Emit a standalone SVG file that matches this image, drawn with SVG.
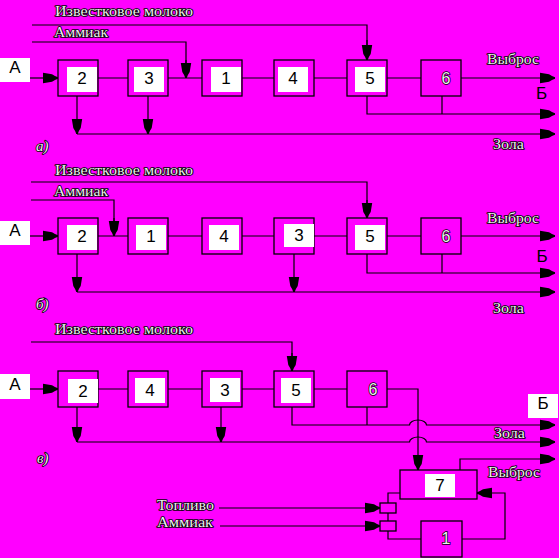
<svg xmlns="http://www.w3.org/2000/svg" width="559" height="558" viewBox="0 0 559 558">
<style>
.bg{fill:#ff00ff}
.box{fill:none;stroke:#000;stroke-width:1.3}
.in{fill:#fff}
.ln{fill:none;stroke:#000;stroke-width:1.2}
.arr{marker-end:url(#ah)}
.num{font-family:"Liberation Sans",Arial,sans-serif;font-size:17px;fill:#000;text-anchor:middle}
.lab{font-family:"Liberation Serif","Times New Roman",serif;font-size:15px;fill:#eee;stroke:#000;stroke-width:1.7;paint-order:stroke;stroke-linejoin:round}
.onum{font-family:"Liberation Sans",Arial,sans-serif;font-size:16px;fill:#eee;stroke:#000;stroke-width:1.5;paint-order:stroke;text-anchor:middle}
</style>
<defs>
<marker id="ah" markerUnits="userSpaceOnUse" markerWidth="16" markerHeight="12" refX="15" refY="6" orient="auto" viewBox="0 0 16 12">
<path d="M0,0.8 L9,2.3 L12,4.1 L15,5.3 L15,6.7 L12,7.9 L9,9.7 L0,11.2 Z" fill="#000"/>
</marker>
</defs>
<rect class="bg" x="0" y="0" width="559" height="558"/>

<!-- ===== a) ===== -->
<g id="a-labels">
<text class="lab" x="55" y="16" textLength="138" lengthAdjust="spacingAndGlyphs">Известковое молоко</text>
<text class="lab" x="54" y="37" textLength="54" lengthAdjust="spacingAndGlyphs">Аммиак</text>
<text class="lab" x="487" y="64" textLength="52" lengthAdjust="spacingAndGlyphs">Выброс</text>
<text class="lab" x="493" y="149" textLength="31" lengthAdjust="spacingAndGlyphs">Зола</text>
<text class="lab" x="36" y="151" font-style="italic">а)</text>
<text class="num" x="541.5" y="99" font-size="16">Б</text>
</g>
<g id="a-A"><rect class="in" x="0" y="58" width="30" height="24"/><text class="num" x="15" y="73" font-size="15">А</text></g>
<g id="a-2"><rect class="box" x="58" y="60" width="40" height="36"/><rect class="in" x="67" y="67" width="30" height="25"/><text class="num" x="82" y="84">2</text></g>
<g id="a-3"><rect class="box" x="128" y="60" width="40" height="36"/><rect class="in" x="134" y="67" width="30" height="25"/><text class="num" x="149" y="84">3</text></g>
<g id="a-1"><rect class="box" x="202" y="60" width="40" height="36"/><rect class="in" x="211" y="67" width="30" height="25"/><text class="num" x="226" y="84">1</text></g>
<g id="a-4"><rect class="box" x="274" y="60" width="40" height="36"/><rect class="in" x="278" y="67" width="30" height="25"/><text class="num" x="293" y="84">4</text></g>
<g id="a-5"><rect class="box" x="347" y="60" width="40" height="36"/><rect class="in" x="355" y="67" width="30" height="25"/><text class="num" x="370" y="84">5</text></g>
<g id="a-6"><rect class="box" x="421" y="60" width="40" height="36"/><text class="onum" x="446" y="84">6</text></g>

<g id="a-connectors">
<path class="ln" d="M32,25 H367 V60"/>
<path class="ln arr" d="M367,40 V60"/>
<path class="ln" d="M32,42 H186 V78"/>
<path class="ln arr" d="M186,60 V78"/>
<path class="ln arr" d="M30,78 H58"/>
<path class="ln" d="M98,78 H128 M168,78 H202 M242,78 H274 M314,78 H347 M387,78 H421"/>
<path class="ln arr" d="M461,78 H555"/>
<path class="ln arr" d="M367,96 V114 H555"/>
<path class="ln" d="M442,96 V114"/>
<path class="ln arr" d="M77,96 V134"/>
<path class="ln arr" d="M148,96 V134"/>
<path class="ln arr" d="M77,134 H555"/>
</g>

<!-- ===== b) ===== -->
<g id="b-labels">
<text class="lab" x="55" y="175" textLength="138" lengthAdjust="spacingAndGlyphs">Известковое молоко</text>
<text class="lab" x="54" y="196" textLength="54" lengthAdjust="spacingAndGlyphs">Аммиак</text>
<text class="lab" x="487" y="223" textLength="52" lengthAdjust="spacingAndGlyphs">Выброс</text>
<text class="lab" x="493" y="313" textLength="31" lengthAdjust="spacingAndGlyphs">Зола</text>
<text class="lab" x="36" y="309" font-style="italic">б)</text>
<text class="num" x="542" y="262" font-size="16">Б</text>
</g>
<g id="b-A"><rect class="in" x="0" y="221" width="30" height="24"/><text class="num" x="15" y="236" font-size="15">А</text></g>
<g id="b-2"><rect class="box" x="58" y="218" width="40" height="36"/><rect class="in" x="67" y="225" width="30" height="25"/><text class="num" x="82" y="242">2</text></g>
<g id="b-1"><rect class="box" x="128" y="218" width="40" height="36"/><rect class="in" x="136" y="225" width="30" height="25"/><text class="num" x="151" y="242">1</text></g>
<g id="b-4"><rect class="box" x="202" y="218" width="40" height="36"/><rect class="in" x="209" y="225" width="30" height="25"/><text class="num" x="224" y="242">4</text></g>
<g id="b-3"><rect class="box" x="274" y="218" width="40" height="36"/><rect class="in" x="284" y="224" width="30" height="23"/><text class="num" x="299" y="241">3</text></g>
<g id="b-5"><rect class="box" x="347" y="218" width="40" height="36"/><rect class="in" x="355" y="225" width="30" height="25"/><text class="num" x="370" y="242">5</text></g>
<g id="b-6"><rect class="box" x="421" y="218" width="40" height="36"/><text class="onum" x="446" y="242">6</text></g>

<g id="b-connectors">
<path class="ln" d="M31,182 H367 V218"/>
<path class="ln arr" d="M367,200 V218"/>
<path class="ln" d="M31,200 H114 V236"/>
<path class="ln arr" d="M114,218 V236"/>
<path class="ln arr" d="M30,236 H58"/>
<path class="ln" d="M98,236 H128 M168,236 H202 M242,236 H274 M314,236 H347 M387,236 H421"/>
<path class="ln arr" d="M461,236 H555"/>
<path class="ln arr" d="M367,254 V273 H555"/>
<path class="ln" d="M442,254 V273"/>
<path class="ln arr" d="M77,254 V292"/>
<path class="ln arr" d="M294,254 V292"/>
<path class="ln arr" d="M77,292 H555"/>
</g>

<!-- ===== c) ===== -->
<g id="c-labels">
<text class="lab" x="55" y="334" textLength="138" lengthAdjust="spacingAndGlyphs">Известковое молоко</text>
<text class="lab" x="494" y="438" textLength="31" lengthAdjust="spacingAndGlyphs">Зола</text>
<text class="lab" x="488" y="477" textLength="52" lengthAdjust="spacingAndGlyphs">Выброс</text>
<text class="lab" x="37" y="463" font-style="italic">в)</text>
<text class="lab" x="157" y="510" textLength="57" lengthAdjust="spacingAndGlyphs">Топливо</text>
<text class="lab" x="157" y="527" textLength="56" lengthAdjust="spacingAndGlyphs">Аммиак</text>
</g>
<g id="c-A"><rect class="in" x="0" y="374" width="30" height="25"/><text class="num" x="15" y="390" font-size="15">А</text></g>
<g id="c-B"><rect class="in" x="528" y="394" width="30" height="24"/><text class="num" x="543" y="409" font-size="16">Б</text></g>
<g id="c-2"><rect class="box" x="58" y="371" width="40" height="36"/><rect class="in" x="68" y="379" width="30" height="24"/><text class="num" x="83" y="397">2</text></g>
<g id="c-4"><rect class="box" x="128" y="371" width="40" height="36"/><rect class="in" x="135" y="378" width="30" height="25"/><text class="num" x="150" y="396">4</text></g>
<g id="c-3"><rect class="box" x="202" y="371" width="40" height="36"/><rect class="in" x="210" y="378" width="30" height="24"/><text class="num" x="225" y="396">3</text></g>
<g id="c-5"><rect class="box" x="274" y="371" width="40" height="36"/><rect class="in" x="281" y="378" width="30" height="25"/><text class="num" x="296" y="396">5</text></g>
<g id="c-6"><rect class="box" x="347" y="371" width="40" height="36"/><text class="onum" x="373" y="395">6</text></g>
<g id="c-7"><rect class="box" x="400" y="470" width="77" height="29"/><rect class="in" x="425" y="474" width="30" height="23"/><text class="num" x="440" y="491">7</text></g>
<g id="c-1"><rect class="box" x="421" y="521" width="41" height="36"/><text class="onum" x="446" y="544">1</text></g>
<g id="c-s1"><rect class="box" x="380" y="503" width="16" height="10"/></g>
<g id="c-s2"><rect class="box" x="380" y="521" width="16" height="10"/></g>

<g id="c-connectors">
<path class="ln" d="M31,342 H292 V371"/>
<path class="ln arr" d="M292,353 V371"/>
<path class="ln arr" d="M30,389 H58"/>
<path class="ln" d="M98,389 H128 M168,389 H202 M242,389 H274 M314,389 H347"/>
<path class="ln arr" d="M387,389 H418 V470"/>
<path class="ln arr" d="M292,407 V425 H409.5 A8.5,5 0 0 1 426.5,425 H555"/>
<path class="ln" d="M367,407 V425"/>
<path class="ln arr" d="M77,407 V442"/>
<path class="ln arr" d="M221,407 V442"/>
<path class="ln arr" d="M77,442 H409.5 A8.5,5 0 0 1 426.5,442 H555"/>
<path class="ln arr" d="M460,470 V459 H555"/>
<path class="ln arr" d="M462,539 H505 V493 H477"/>
<path class="ln" d="M400,493 H388 V503 M388,513 V521 M388,531 V539 H421"/>
<path class="ln arr" d="M219,508 H380"/>
<path class="ln arr" d="M220,526 H380"/>
</g>
</svg>
